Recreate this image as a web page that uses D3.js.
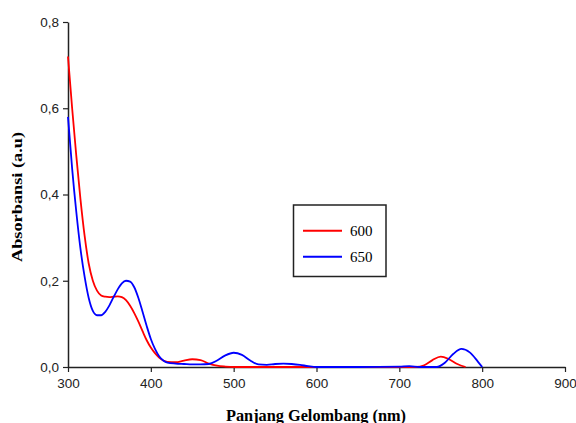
<!DOCTYPE html>
<html>
<head>
<meta charset="utf-8">
<script src="https://cdn.jsdelivr.net/npm/d3@7"></script>
<style>
  body { margin: 0; background: #fff; }
  svg { display: block; }
</style>
</head>
<body>
<script>
// panjang gelombang (nm)
let wl600 = [300, 305, 310, 315, 320, 325, 330, 335, 340, 345, 350, 355, 360, 365, 370, 375, 380, 385, 390, 395, 400,
  405, 410, 415, 420, 430, 440, 450, 460, 470, 480, 490, 500, 550, 600, 650, 700, 720, 730, 740, 750, 760, 770, 780];
let abs600 = [0.72, 0.60, 0.49, 0.39, 0.305, 0.24, 0.20, 0.177, 0.166, 0.163, 0.162, 0.163, 0.164, 0.162, 0.155, 0.142, 0.125, 0.105, 0.083, 0.062, 0.045,
  0.032, 0.022, 0.015, 0.012, 0.011, 0.015, 0.018, 0.016, 0.008, 0.003, 0.001, 0.0, 0.0, 0.0, 0.0, 0.0, 0.0, 0.004, 0.016, 0.024, 0.018, 0.007, 0.0];

let wl650 = [300, 305, 310, 315, 320, 325, 330, 335, 340, 345, 350, 355, 360, 365, 370, 375, 380, 385, 390, 395, 400,
  405, 410, 415, 420, 430, 440, 450, 460, 470, 480, 490, 500, 510, 520, 530, 540, 550, 560, 570, 580, 590, 600,
  650, 700, 712, 725, 745, 755, 765, 775, 785, 795, 800];
let abs650 = [0.58, 0.46, 0.36, 0.275, 0.21, 0.16, 0.13, 0.12, 0.12, 0.128, 0.143, 0.162, 0.18, 0.194, 0.2, 0.198, 0.185, 0.16, 0.128, 0.095, 0.065,
  0.042, 0.025, 0.015, 0.01, 0.008, 0.007, 0.006, 0.006, 0.007, 0.015, 0.027, 0.033, 0.028, 0.015, 0.006, 0.005, 0.007, 0.008, 0.007, 0.005, 0.002, 0.0,
  0.0, 0.001, 0.002, 0.0, 0.0, 0.01, 0.03, 0.042, 0.034, 0.012, 0.0];

let xTicks = [300, 400, 500, 600, 700, 800, 900];
let yTicks = [0, 0.2, 0.4, 0.6, 0.8];
let seriesNames = ["600", "650"];

const width = 576, height = 423;

const svg = d3.select("body").append("svg")
  .attr("width", width)
  .attr("height", height);

let x = d3.scaleLinear().domain([300, 900]).range([68, 565]);
let y = d3.scaleLinear().domain([0, 0.8]).range([367, 22]);

let fmt = d => d3.format(".1f")(d).replace(".", ",");

// sumbu x
let gx = svg.append("g")
  .attr("transform", `translate(0,${y(0)})`)
  .call(d3.axisBottom(x).tickValues(xTicks).tickSize(5).tickPadding(6).tickSizeOuter(0));

// sumbu y
let gy = svg.append("g")
  .attr("transform", `translate(${x(300)},0)`)
  .call(d3.axisLeft(y).tickValues(yTicks).tickFormat(fmt).tickSize(5).tickPadding(4).tickSizeOuter(0));

svg.selectAll(".domain").attr("stroke", "#222").attr("stroke-width", 1.5);
svg.selectAll(".tick line").attr("stroke", "#222").attr("stroke-width", 1.2);
svg.selectAll(".tick text")
  .style("font-family", "'Liberation Sans', Arial, sans-serif")
  .style("font-size", "13.5px")
  .attr("fill", "#222");

let line = d3.line()
  .x(d => x(d[0]))
  .y(d => y(d[1]))
  .curve(d3.curveMonotoneX);

svg.append("path")
  .datum(d3.zip(wl600, abs600))
  .attr("d", line)
  .attr("fill", "none")
  .attr("stroke", "red")
  .attr("stroke-width", 1.8);

svg.append("path")
  .datum(d3.zip(wl650, abs650))
  .attr("d", line)
  .attr("fill", "none")
  .attr("stroke", "blue")
  .attr("stroke-width", 1.8);

// judul sumbu
svg.append("text")
  .text("Panjang Gelombang (nm)")
  .attr("x", 316)
  .attr("y", 421)
  .attr("text-anchor", "middle")
  .attr("textLength", 180)
  .attr("lengthAdjust", "spacingAndGlyphs")
  .style("font-family", "'Liberation Serif', 'Times New Roman', serif")
  .style("font-weight", "bold")
  .style("font-size", "16px");

svg.append("text")
  .text("Absorbansi (a.u)")
  .attr("transform", "translate(22,197) rotate(-90)")
  .attr("text-anchor", "middle")
  .attr("textLength", 130)
  .attr("lengthAdjust", "spacingAndGlyphs")
  .style("font-family", "'Liberation Serif', 'Times New Roman', serif")
  .style("font-weight", "bold")
  .style("font-size", "15px");

// legenda
let legend = svg.append("g");
legend.append("rect")
  .attr("x", 293.5)
  .attr("y", 205)
  .attr("width", 92.5)
  .attr("height", 71.5)
  .attr("fill", "#fff")
  .attr("stroke", "#222")
  .attr("stroke-width", 1.5);

legend.selectAll("g.item")
  .data(seriesNames)
  .join("g")
  .attr("class", "item")
  .each(function (d, i) {
    let g = d3.select(this);
    let yy = 230.7 + i * 26;
    g.append("line")
      .attr("x1", 303)
      .attr("x2", 342)
      .attr("y1", yy)
      .attr("y2", yy)
      .attr("stroke", i === 0 ? "red" : "blue")
      .attr("stroke-width", 2);
    g.append("text")
      .text(d)
      .attr("x", 350)
      .attr("y", yy + 5)
      .style("font-family", "'Liberation Serif', 'Times New Roman', serif")
      .style("font-size", "15px");
  });
</script>
</body>
</html>
